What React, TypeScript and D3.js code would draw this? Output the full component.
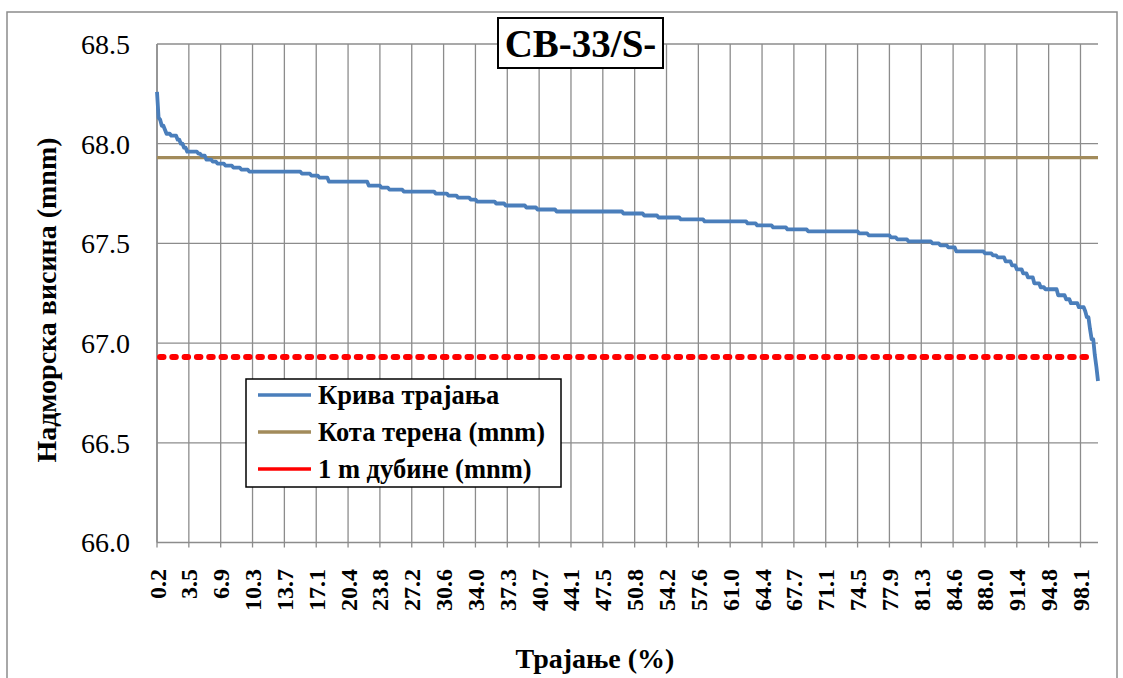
import * as d3 from 'd3';

const levelValues = [
  68.26, 68.13, 68.12, 68.09, 68.07, 68.05, 68.04, 68.02, 68.0, 67.98,
  67.96, 67.95, 67.94, 67.92, 67.91, 67.9, 67.89, 67.88, 67.87, 67.86,
  67.85, 67.84, 67.83, 67.81, 67.79, 67.78, 67.77, 67.76, 67.75, 67.74,
  67.73, 67.72, 67.71, 67.7, 67.69, 67.68, 67.67, 67.66, 67.65, 67.64,
  67.63, 67.62, 67.61, 67.6, 67.59, 67.58, 67.57, 67.56, 67.55, 67.54,
  67.53, 67.52, 67.51, 67.5, 67.49, 67.48, 67.46, 67.45, 67.44, 67.43,
  67.41, 67.39, 67.37, 67.35, 67.33, 67.3, 67.28, 67.27, 67.24, 67.22,
  67.2, 67.18, 67.16, 67.13, 67.07, 67.02, 66.94, 66.88, 66.81,
];
const levelEnds = [
  1, 2, 3, 5, 6, 9, 13, 15, 17, 19,
  26, 28, 31, 35, 38, 43, 48, 53, 58, 91,
  97, 102, 108, 133, 141, 146, 155, 175, 183, 189,
  197, 201, 213, 219, 232, 239, 251, 293, 306, 315,
  329, 344, 371, 377, 387, 396, 409, 441, 447, 461,
  465, 472, 487, 492, 497, 502, 520, 525, 528, 533,
  537, 540, 544, 547, 551, 555, 558, 566, 571, 574,
  579, 583, 584, 586, 587, 589, 590, 591, 592,
];
const tickLabels = [
  '0.2', '3.5', '6.9', '10.3', '13.7', '17.1', '20.4', '23.8', '27.2', '30.6',
  '34.0', '37.3', '40.7', '44.1', '47.5', '50.8', '54.2', '57.6', '61.0', '64.4',
  '67.7', '71.1', '74.5', '77.9', '81.3', '84.6', '88.0', '91.4', '94.8', '98.1',
];
const yTicks = [66.0, 66.5, 67.0, 67.5, 68.0, 68.5];
const terrainLevel = 67.93; // Кота терена
const depthLevel = 66.93; // 1 m дубине
const labelStep = 20;

const series: { i: number; v: number }[] = [];
levelEnds.forEach((end, k) => {
  const start = k === 0 ? 1 : levelEnds[k - 1] + 1;
  for (let i = start; i <= end; i++) series.push({ i, v: levelValues[k] });
});
const N = series.length;

const W = 1123;
const H = 678;
const left = 157;
const right = 1098;
const top = 44;
const bottom = 542.5;

const BLUE = '#4A7EBB';
const TAN = '#A28B5B';
const RED = '#FF0000';
const GRID = '#8C8C8C';
const font = "'Liberation Serif', 'Times New Roman', 'DejaVu Serif', serif";

export default function App() {
  const x = d3.scaleLinear().domain([1, N]).range([left, right]);
  const y = d3.scaleLinear().domain([66, 68.5]).range([bottom, top]);
  const line = d3
    .line<{ i: number; v: number }>()
    .x(d => x(d.i))
    .y(d => y(d.v));

  const tickIdx = tickLabels.map((_, j) => 1 + j * labelStep);

  const legend = [
    { name: 'Крива трајања', color: BLUE },
    { name: 'Кота терена (mnm)', color: TAN },
    { name: '1 m дубине (mnm)', color: RED },
  ];

  return (
    <svg
      width={W}
      height={H}
      style={{ position: 'absolute', left: 0, top: 0, background: '#fff', fontFamily: font }}
    >
      <rect x={7} y={12} width={1110} height={680} fill="#fff" stroke={GRID} strokeWidth={1.5} />

      {/* grid */}
      {yTicks.map(t => (
        <line key={t} x1={left} x2={right} y1={y(t)} y2={y(t)} stroke={GRID} strokeWidth={1.3} />
      ))}
      {tickIdx.map(i => (
        <line key={i} x1={x(i)} x2={x(i)} y1={top} y2={bottom + 5} stroke={GRID} strokeWidth={1.3} />
      ))}
      <line x1={left} x2={left} y1={top} y2={bottom} stroke={GRID} strokeWidth={1.5} />

      {/* y labels */}
      {yTicks.map(t => (
        <text key={t} x={130} y={y(t)} dy="0.35em" textAnchor="end" fontSize={28}>
          {t.toFixed(1)}
        </text>
      ))}

      {/* x labels */}
      {tickIdx.map((i, j) => (
        <text
          key={i}
          transform={`translate(${x(i) + 8.5},569) rotate(-90)`}
          textAnchor="end"
          fontSize={24}
          fontWeight="bold"
        >
          {tickLabels[j]}
        </text>
      ))}

      {/* reference lines */}
      <line x1={left} x2={right} y1={y(terrainLevel)} y2={y(terrainLevel)} stroke={TAN} strokeWidth={3.3} />
      <line
        x1={left + 3}
        x2={right - 4}
        y1={y(depthLevel)}
        y2={y(depthLevel)}
        stroke={RED}
        strokeWidth={6}
        strokeDasharray="3.5 8.8"
        strokeLinecap="round"
      />

      <path d={line(series) ?? ''} fill="none" stroke={BLUE} strokeWidth={3.8} strokeLinejoin="round" />

      {/* title */}
      <rect x={498} y={18} width={165} height={50} fill="#fff" stroke="#000" strokeWidth={2} />
      <text x={580.5} y={57} textAnchor="middle" fontSize={39} fontWeight="bold">
        CB-33/S-
      </text>

      {/* legend */}
      <rect x={246} y={379} width={315} height={108} fill="#fff" stroke="#000" strokeWidth={1.5} />
      {legend.map((l, k) => (
        <g key={l.name} transform={`translate(0,${395 + k * 37})`}>
          <line x1={258} x2={311} y1={0} y2={0} stroke={l.color} strokeWidth={3.3} />
          <text x={318} y={0} dy="0.35em" fontSize={26.5} fontWeight="bold">
            {l.name}
          </text>
        </g>
      ))}

      {/* axis titles */}
      <text
        transform={`translate(56,300) rotate(-90)`}
        textAnchor="middle"
        fontSize={28}
        fontWeight="bold"
      >
        Надморска висина (mnm)
      </text>
      <text x={595} y={668} textAnchor="middle" fontSize={28} fontWeight="bold">
        Трајање (%)
      </text>
    </svg>
  );
}
